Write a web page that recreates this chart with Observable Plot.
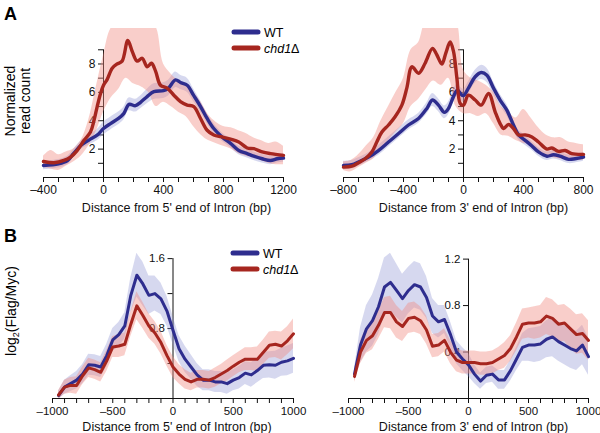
<!DOCTYPE html>
<html><head><meta charset="utf-8">
<script src="https://cdn.jsdelivr.net/npm/d3@7"></script>
<script src="https://cdn.jsdelivr.net/npm/@observablehq/plot@0.6"></script>
<style>
body{margin:0;background:#fff;font-family:"Liberation Sans",Arial,sans-serif;}
#root{position:relative;width:600px;height:433px;overflow:hidden;background:#fff;}
.panel{position:absolute;}
.panel svg{overflow:visible;}
#overlay{position:absolute;left:0;top:0;pointer-events:none;}
</style>
</head><body>
<div id="root"></div>
<script>
// ---------------- DATA ----------------
// Panel A, left: distance from 5' end of intron (bp), normalized read count
const aL_wt_x = [-400,-300,-240,-200,-150,-100,-40,0,47,100,135,170,213,247,291,336,400,433,480,513,558,600,647,691,735,790,847,902,958,1002,1058,1113,1158,1200];
const aL_wt_y = [0.85,0.97,1.2,1.68,2.27,2.62,3.0,3.45,3.8,4.16,4.5,5.15,5.06,5.3,5.7,6.05,6.12,6.3,6.88,6.7,6.5,5.8,5.0,4.16,3.45,2.86,2.4,1.9,1.68,1.5,1.32,1.2,1.32,1.37];
const aL_wt_err = [0.3,0.3,0.3,0.3,0.3,0.35,0.4,0.45,0.45,0.45,0.45,0.45,0.45,0.45,0.5,0.55,0.55,0.55,0.55,0.5,0.5,0.45,0.4,0.35,0.35,0.3,0.3,0.3,0.3,0.3,0.3,0.3,0.3,0.3];
const aL_chd_x = [-400,-331,-264,-220,-176,-131,-87,-64,-42,-20,0,24,58,91,124,162,191,224,258,291,320,347,380,424,469,513,558,602,647,691,735,790,847,902,958,1002,1058,1113,1200];
const aL_chd_y = [1.13,1.04,1.2,1.44,1.9,2.6,3.2,4.0,5.0,5.9,6.5,6.9,7.7,8.0,8.2,9.65,8.9,8.2,8.4,7.8,8.05,7.5,6.5,6.3,5.8,5.35,5.1,5.0,4.16,3.33,3.0,2.86,2.7,2.5,2.08,2.03,1.8,1.68,1.56];
const aL_band_x = [-400,-350,-300,-250,-200,-150,-100,-50,0,50,100,150,200,250,300,350,400,450,500,550,600,650,700,750,800,850,900,950,1000,1050,1100,1150,1200];
const aL_chd_lo = [0.7,0.6,0.5,0.8,1.1,1.5,2.2,3.2,4.6,5.6,6.2,7.0,6.6,6.4,6.0,5.0,5.3,5.0,4.6,4.3,3.6,3.0,2.6,2.4,2.2,2.0,1.7,1.5,1.4,1.2,1.0,0.9,0.9];
const aL_chd_hi = [1.5,1.9,1.6,1.8,2.0,2.6,4.0,6.3,8.6,10.5,11,11,11,11,11,10.6,8.0,7.3,6.8,6.5,6.0,5.3,4.4,3.9,3.6,3.5,3.3,3.1,2.8,2.6,2.4,2.5,2.2];

// Panel A, right: distance from 3' end of intron (bp)
const aR_wt_x = [-800,-744,-700,-633,-567,-500,-433,-367,-300,-244,-207,-167,-127,-100,-67,-40,-22,0,33,78,118,156,200,244,289,333,367,411,456,500,556,600,644,700,744,800];
const aR_wt_y = [0.85,0.9,1.09,1.44,1.9,2.5,3.1,3.7,4.16,4.87,5.46,5.1,4.59,4.87,5.7,6.17,5.93,5.77,6.3,7.1,7.4,7.2,6.3,5.46,4.75,3.7,3.0,2.62,2.22,1.8,1.5,1.6,1.5,1.28,1.32,1.44];
const aR_wt_err = [0.3,0.3,0.3,0.3,0.35,0.35,0.35,0.35,0.35,0.4,0.45,0.45,0.45,0.45,0.45,0.45,0.45,0.45,0.45,0.45,0.5,0.5,0.45,0.4,0.4,0.35,0.35,0.35,0.3,0.3,0.3,0.3,0.3,0.3,0.3,0.3];
const aR_chd_x = [-800,-744,-700,-656,-611,-578,-544,-500,-456,-411,-378,-344,-300,-256,-207,-178,-144,-118,-89,-67,-44,-22,0,33,78,118,167,211,244,267,300,333,367,411,456,500,556,589,633,678,722,800];
const aR_chd_y = [0.73,0.8,1.04,1.32,1.8,2.5,3.2,3.7,4.28,5.1,6.3,7.8,7.35,8.05,9.1,8.65,8.0,8.77,9.55,8.9,7.0,5.22,5.1,5.8,5.46,5.1,5.93,4.63,3.8,3.45,3.73,3.45,3.0,3.0,2.86,2.5,2.0,2.08,1.84,1.9,1.68,1.63];
const aR_band_x = [-800,-750,-700,-650,-600,-550,-500,-450,-400,-350,-300,-250,-200,-150,-100,-50,0,50,100,150,200,250,300,350,400,450,500,550,600,650,700,750,800];
const aR_chd_lo = [0.5,0.4,0.7,1.0,1.3,2.0,2.6,3.2,3.8,5.0,5.5,6.2,6.8,6.5,7.0,5.0,4.5,4.5,4.3,4.5,3.8,3.0,2.9,2.6,2.4,2.3,1.8,1.6,1.4,1.3,1.2,1.2,1.2];
const aR_chd_hi = [1.1,1.2,1.6,2.2,2.8,4.0,5.0,6.0,7.0,9.0,9.5,11,11,11,11,11,7.6,7.0,6.8,6.5,6.0,5.0,4.6,4.2,4.8,4.2,3.5,3.0,2.8,2.8,2.5,2.4,2.3];

// Panel B: log2(Flag/Myc)
const b_x = [-950,-900,-850,-800,-750,-700,-650,-600,-550,-500,-450,-400,-350,-300,-250,-200,-150,-100,-50,0,50,100,150,200,250,300,350,400,450,500,550,600,650,700,750,800,850,900,950,1000];
const bL_wt_y = [0.034,0.13,0.17,0.21,0.28,0.385,0.38,0.36,0.49,0.67,0.73,0.83,1.18,1.41,1.31,1.18,1.2,1.14,1.0,0.78,0.57,0.45,0.36,0.27,0.21,0.21,0.19,0.19,0.17,0.21,0.24,0.29,0.27,0.32,0.38,0.385,0.38,0.415,0.43,0.46];
const bL_wt_err = [0.05,0.08,0.09,0.1,0.11,0.12,0.12,0.12,0.13,0.13,0.14,0.15,0.2,0.25,0.25,0.22,0.2,0.18,0.17,0.16,0.15,0.15,0.14,0.13,0.12,0.12,0.12,0.12,0.12,0.12,0.13,0.13,0.14,0.14,0.15,0.15,0.16,0.16,0.17,0.17];
const bL_chd_y = [0.04,0.13,0.15,0.15,0.26,0.35,0.33,0.30,0.43,0.59,0.6,0.62,0.85,1.06,0.95,0.83,0.75,0.64,0.49,0.36,0.28,0.22,0.19,0.22,0.22,0.21,0.24,0.28,0.32,0.37,0.415,0.45,0.45,0.45,0.53,0.61,0.62,0.6,0.66,0.74];
const bL_chd_err = [0.05,0.08,0.09,0.1,0.1,0.11,0.11,0.11,0.12,0.12,0.13,0.13,0.14,0.16,0.15,0.14,0.13,0.13,0.12,0.12,0.11,0.11,0.1,0.1,0.1,0.1,0.11,0.11,0.12,0.12,0.12,0.13,0.13,0.14,0.14,0.15,0.15,0.16,0.16,0.17];
const bR_wt_y = [0.21,0.46,0.6,0.67,0.79,0.96,1.0,0.93,0.86,0.93,0.98,0.96,0.87,0.71,0.66,0.68,0.55,0.4,0.34,0.29,0.21,0.15,0.2,0.21,0.16,0.16,0.24,0.34,0.44,0.46,0.46,0.47,0.51,0.53,0.49,0.46,0.43,0.41,0.46,0.36];
const bR_wt_err = [0.05,0.15,0.2,0.22,0.24,0.25,0.25,0.23,0.21,0.2,0.2,0.2,0.18,0.15,0.14,0.12,0.11,0.1,0.1,0.1,0.08,0.07,0.07,0.07,0.08,0.08,0.09,0.1,0.12,0.14,0.15,0.15,0.16,0.17,0.17,0.17,0.17,0.17,0.17,0.16];
const bR_chd_y = [0.19,0.4,0.5,0.54,0.63,0.74,0.74,0.66,0.62,0.69,0.7,0.67,0.59,0.45,0.46,0.5,0.4,0.33,0.31,0.31,0.31,0.3,0.3,0.31,0.34,0.37,0.43,0.53,0.64,0.65,0.65,0.66,0.71,0.69,0.64,0.65,0.6,0.55,0.56,0.5];
const bR_chd_err = [0.05,0.1,0.11,0.12,0.12,0.13,0.14,0.14,0.13,0.13,0.13,0.12,0.12,0.1,0.1,0.1,0.1,0.1,0.1,0.1,0.1,0.1,0.1,0.1,0.1,0.11,0.11,0.12,0.13,0.13,0.14,0.14,0.16,0.16,0.16,0.16,0.17,0.17,0.17,0.17];

// Ticks
const aL_xticks = [-400,-300,-200,-100,0,100,200,300,400,500,600,700,800,900,1000,1100,1200];
const aL_xlabels = [-400,0,400,800,1200];
const aR_xticks = [-800,-700,-600,-500,-400,-300,-200,-100,0,100,200,300,400,500,600,700,800];
const aR_xlabels = [-800,-400,0,400,800];
const a_yticks = [1,2,3,4,5,6,7,8,9];
const a_ylabels = [2,4,6,8];
const b_xticks = [-1000,-900,-800,-700,-600,-500,-400,-300,-200,-100,0,100,200,300,400,500,600,700,800,900,1000];
const b_xlabels = [-1000,-500,0,500,1000];
const bL_yticks = [0.4,0.8,1.2,1.6];
const bL_ylabels = [0.8,1.6];
const bR_yticks = [0.4,0.8,1.2];
const bR_ylabels = [0.4,0.8,1.2];

const seriesNames = ["WT", "chd1Δ"];

// ---------------- STYLE ----------------
const BLUE = "#2e2d8e", RED = "#a6261f";
const BLUE_BAND = "#8a90d0", RED_BAND = "#f08a80";
const FONT = "'Liberation Sans', Arial, Helvetica, sans-serif";

const fmtX = d => d < 0 ? "\u2013" + Math.abs(d) : String(d);

function rows(xs, ys, err) {
  return xs.map((x, i) => ({x, y: ys[i], lo: err ? ys[i] - err[i] : undefined, hi: err ? ys[i] + err[i] : undefined}));
}
function bandRows(xs, lo, hi) {
  return xs.map((x, i) => ({x, lo: lo[i], hi: hi[i]}));
}

function makePanel(cfg) {
  const marks = [
    // x axis
    Plot.ruleY([0], {stroke: "#111", strokeWidth: 1}),
    Plot.ruleX(cfg.xticks, {x: d => d, y1: 0, y2: 0, insetBottom: -5, stroke: "#111", strokeWidth: 1}),
    Plot.text(cfg.xlabels, {x: d => d, y: 0, dy: 13, text: fmtX, fontSize: cfg.tickFont, lineAnchor: "middle", fill: "#111"}),
    Plot.text([cfg.title], {frameAnchor: "bottom", dx: cfg.titleDx, dy: cfg.titleDy, fontSize: 12.5, lineAnchor: "middle", fill: "#111"}),
    // y axis at x = 0
    Plot.ruleX([0], {y1: 0, y2: cfg.yAxisTop, stroke: "#111", strokeWidth: 1}),
    Plot.ruleY(cfg.yticks, {y: d => d, x1: 0, x2: 0, insetLeft: -5, stroke: "#111", strokeWidth: 1}),
    Plot.text(cfg.ylabels, {x: 0, y: d => d, dx: -8, text: cfg.yfmt, textAnchor: "end", fontSize: cfg.tickFont, fill: "#111"}),
    // bands
    ...cfg.bands.map(b => Plot.areaY(b.data, {x: "x", y1: "lo", y2: "hi", fill: b.fill, fillOpacity: b.opacity, curve: cfg.curve, clip: true})),
    // lines
    ...cfg.lines.map(l => Plot.line(l.data, {x: "x", y: "y", stroke: l.stroke, strokeWidth: cfg.lineWidth, curve: cfg.curve, strokeLinejoin: "round", strokeLinecap: "round"}))
  ];
  const chart = Plot.plot({
    width: cfg.width, height: cfg.height,
    marginLeft: cfg.mL, marginRight: cfg.mR, marginTop: cfg.mT, marginBottom: cfg.mB,
    x: {domain: cfg.xDomain, axis: null},
    y: {domain: cfg.yDomain, axis: null},
    style: {fontFamily: FONT, fontSize: "12px", background: "transparent", overflow: "visible", color: "#111"},
    marks
  });
  const div = document.createElement("div");
  div.className = "panel";
  div.style.left = cfg.left + "px";
  div.style.top = cfg.top + "px";
  div.appendChild(chart);
  document.getElementById("root").appendChild(div);
}

// Panel A left
makePanel({
  left: 0, top: 0, width: 300, height: 210, mL: 43, mR: 17, mT: 28, mB: 33,
  xDomain: [-400, 1200], yDomain: [0, 10.5], yAxisTop: 9, tickFont: 12,
  xticks: aL_xticks, xlabels: aL_xlabels, yticks: a_yticks, ylabels: a_ylabels, yfmt: d => String(d),
  title: "Distance from 5' end of Intron (bp)", titleDx: 13, titleDy: 30,
  curve: "catmull-rom", lineWidth: 3.4,
  bands: [
    {data: rows(aL_wt_x, aL_wt_y, aL_wt_err), fill: BLUE_BAND, opacity: 0.35},
    {data: bandRows(aL_band_x, aL_chd_lo, aL_chd_hi), fill: RED_BAND, opacity: 0.42}
  ],
  lines: [
    {data: rows(aL_wt_x, aL_wt_y), stroke: BLUE},
    {data: rows(aL_chd_x, aL_chd_y), stroke: RED}
  ]
});
// Panel A right
makePanel({
  left: 300, top: 0, width: 300, height: 210, mL: 43, mR: 17, mT: 28, mB: 33,
  xDomain: [-800, 800], yDomain: [0, 10.5], yAxisTop: 9, tickFont: 12,
  xticks: aR_xticks, xlabels: aR_xlabels, yticks: a_yticks, ylabels: a_ylabels, yfmt: d => String(d),
  title: "Distance from 3' end of Intron (bp)", titleDx: 10, titleDy: 30,
  curve: "catmull-rom", lineWidth: 3.4,
  bands: [
    {data: rows(aR_wt_x, aR_wt_y, aR_wt_err), fill: BLUE_BAND, opacity: 0.35},
    {data: bandRows(aR_band_x, aR_chd_lo, aR_chd_hi), fill: RED_BAND, opacity: 0.42}
  ],
  lines: [
    {data: rows(aR_wt_x, aR_wt_y), stroke: BLUE},
    {data: rows(aR_chd_x, aR_chd_y), stroke: RED}
  ]
});
// Panel B left
makePanel({
  left: 0, top: 210, width: 300, height: 223, mL: 52, mR: 7, mT: 35, mB: 35,
  xDomain: [-1000, 1000], yDomain: [0, 1.75], yAxisTop: 1.6, tickFont: 11.5,
  xticks: b_xticks, xlabels: b_xlabels, yticks: bL_yticks, ylabels: bL_ylabels, yfmt: d => d.toFixed(1),
  title: "Distance from 5' end of Intron (bp)", titleDx: 4, titleDy: 28,
  curve: "linear", lineWidth: 3,
  bands: [
    {data: rows(b_x, bL_wt_y, bL_wt_err), fill: BLUE_BAND, opacity: 0.35},
    {data: rows(b_x, bL_chd_y, bL_chd_err), fill: RED_BAND, opacity: 0.42}
  ],
  lines: [
    {data: rows(b_x, bL_wt_y), stroke: BLUE},
    {data: rows(b_x, bL_chd_y), stroke: RED}
  ]
});
// Panel B right
makePanel({
  left: 300, top: 210, width: 300, height: 223, mL: 48, mR: 12, mT: 37, mB: 35,
  xDomain: [-1000, 1000], yDomain: [0, 1.3], yAxisTop: 1.2, tickFont: 11.5,
  xticks: b_xticks, xlabels: b_xlabels, yticks: bR_yticks, ylabels: bR_ylabels, yfmt: d => d.toFixed(1),
  title: "Distance from 3' end of Intron (bp)", titleDx: 5, titleDy: 28,
  curve: "linear", lineWidth: 3,
  bands: [
    {data: rows(b_x, bR_wt_y, bR_wt_err), fill: BLUE_BAND, opacity: 0.35},
    {data: rows(b_x, bR_chd_y, bR_chd_err), fill: RED_BAND, opacity: 0.42}
  ],
  lines: [
    {data: rows(b_x, bR_wt_y), stroke: BLUE},
    {data: rows(b_x, bR_chd_y), stroke: RED}
  ]
});

// ---------------- Overlay: panel letters, y titles, legends ----------------
const svg = d3.select("#root").append("svg").attr("id", "overlay")
  .attr("width", 600).attr("height", 433).style("font-family", FONT);
svg.append("text").attr("x", 4).attr("y", 20).attr("font-size", 18).attr("font-weight", "bold").text("A");
svg.append("text").attr("x", 4).attr("y", 242).attr("font-size", 18).attr("font-weight", "bold").text("B");

const yt = svg.append("text").attr("transform", "translate(15,101) rotate(-90)")
  .attr("text-anchor", "middle").attr("font-size", 14);
yt.append("tspan").attr("x", 0).attr("dy", 0).text("Normalized");
yt.append("tspan").attr("x", 0).attr("dy", 15).text("read count");

const yb = svg.append("text").attr("transform", "translate(16,311) rotate(-90)")
  .attr("text-anchor", "middle").attr("font-size", 14);
yb.append("tspan").text("log");
yb.append("tspan").attr("font-size", 9).attr("dy", 3).text("2");
yb.append("tspan").attr("dy", -3).text("(Flag/Myc)");

function legend(x, y) {
  const g = svg.append("g");
  [BLUE, RED].forEach((c, i) => {
    g.append("line").attr("x1", x).attr("x2", x + 24).attr("y1", y + i * 16).attr("y2", y + i * 16)
      .attr("stroke", c).attr("stroke-width", 5).attr("stroke-linecap", "round");
    const t = g.append("text").attr("x", x + 30).attr("y", y + i * 16 + 4.5).attr("font-size", 12.5);
    if (i === 0) t.text(seriesNames[0]);
    else { t.append("tspan").attr("font-style", "italic").text("chd1"); t.append("tspan").text("Δ"); }
  });
}
legend(234, 32);
legend(233, 253);
</script>
</body></html>
